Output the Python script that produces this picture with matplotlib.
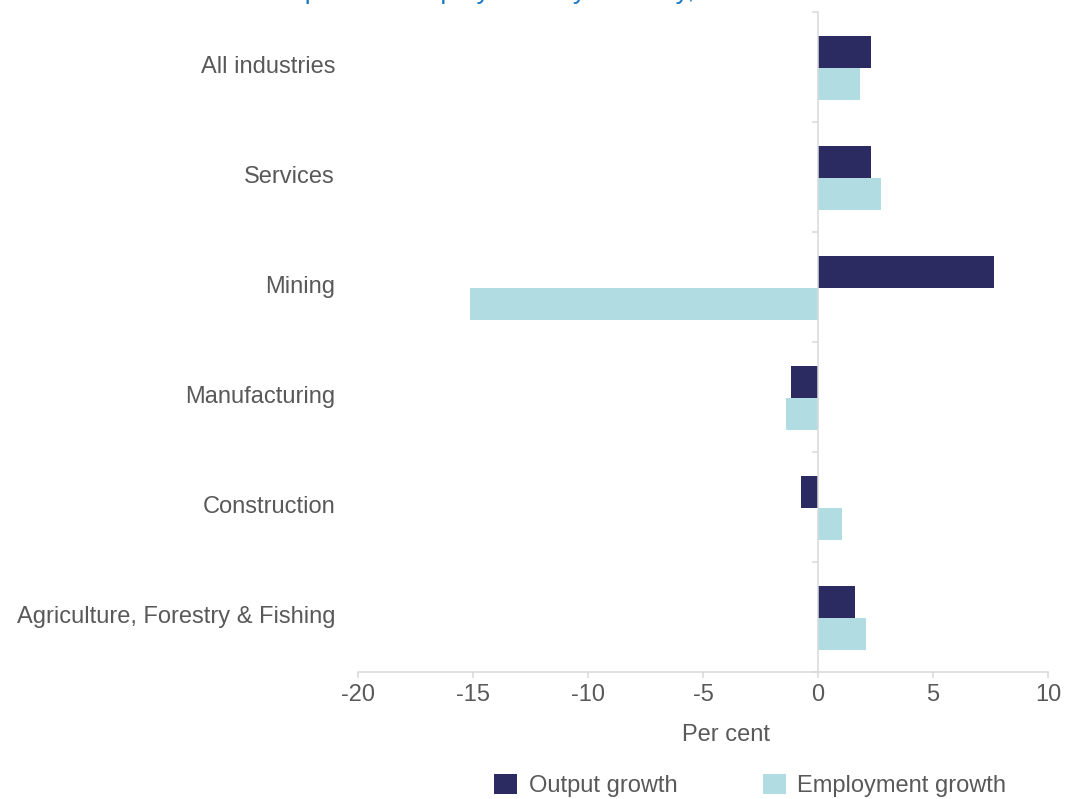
import matplotlib.pyplot as plt
import numpy as np

plt.rcParams['font.family'] = ['Liberation Sans', 'DejaVu Sans']

# Data (per cent)
industries = ['All industries', 'Services', 'Mining', 'Manufacturing',
              'Construction', 'Agriculture, Forestry & Fishing']
output_growth = [2.3, 2.3, 7.65, -1.17, -0.74, 1.61]
employment_growth = [1.83, 2.74, -15.13, -1.39, 1.04, 2.09]
xticks = [-20, -15, -10, -5, 0, 5, 10]

navy = '#2b2a61'
light = '#b0dce2'
grey = '#d9d9d9'
txt = '#595959'

fig = plt.figure(figsize=(10.66, 7.99), dpi=100)
ax = fig.add_axes([358 / 1066, 1 - 672 / 799, 690 / 1066, 660 / 799])

y = np.arange(len(industries))
h = 0.29
ax.barh(y - h / 2 + 0.01, output_growth, height=h, color=navy, label='Output growth')
ax.barh(y + h / 2 + 0.01, employment_growth, height=h, color=light, label='Employment growth')

ax.set_xlim(-20, 10)
ax.set_ylim(len(industries) - 0.5, -0.5)
ax.set_xticks(xticks)
ax.set_xticklabels([str(t) for t in xticks])
ax.tick_params(axis='x', colors=grey, labelcolor=txt, labelsize=17, length=4.3, width=1.1, pad=4)

# vertical axis line sits at zero, ticks mark the category boundaries
ax.spines['left'].set_position(('data', 0))
ax.spines['left'].set_color(grey)
ax.spines['left'].set_linewidth(1.1)
ax.spines['bottom'].set_color(grey)
ax.spines['bottom'].set_linewidth(1.1)
ax.spines['top'].set_visible(False)
ax.spines['right'].set_visible(False)
ax.set_yticks(np.arange(len(industries) + 1) - 0.5)
ax.set_yticklabels([])
ax.tick_params(axis='y', colors=grey, length=4.3, width=1.1)

for i, name in enumerate(industries):
    ax.text(-0.0333, i, name, transform=ax.get_yaxis_transform(), ha='right', va='center',
            fontsize=17, color=txt)

ax.set_xlabel('Per cent', fontsize=17, color=txt)
ax.xaxis.set_label_coords(0.533, -0.0955)
ax.xaxis.label.set_va('center')

fig.text(261 / 1066, 1 + 1.5 / 799, 'Output and employment by industry, 2015-16',
         ha='left', va='baseline', fontsize=19.5, color='#1f7ac4')

fig.legend(loc='center', bbox_to_anchor=(0.704, 0.0169), ncol=2, frameon=False,
           fontsize=17, labelcolor=txt, handlelength=0.97, handleheight=0.97,
           handletextpad=0.5, columnspacing=3.6, borderpad=0, borderaxespad=0)

plt.savefig('out.png', dpi=100)
